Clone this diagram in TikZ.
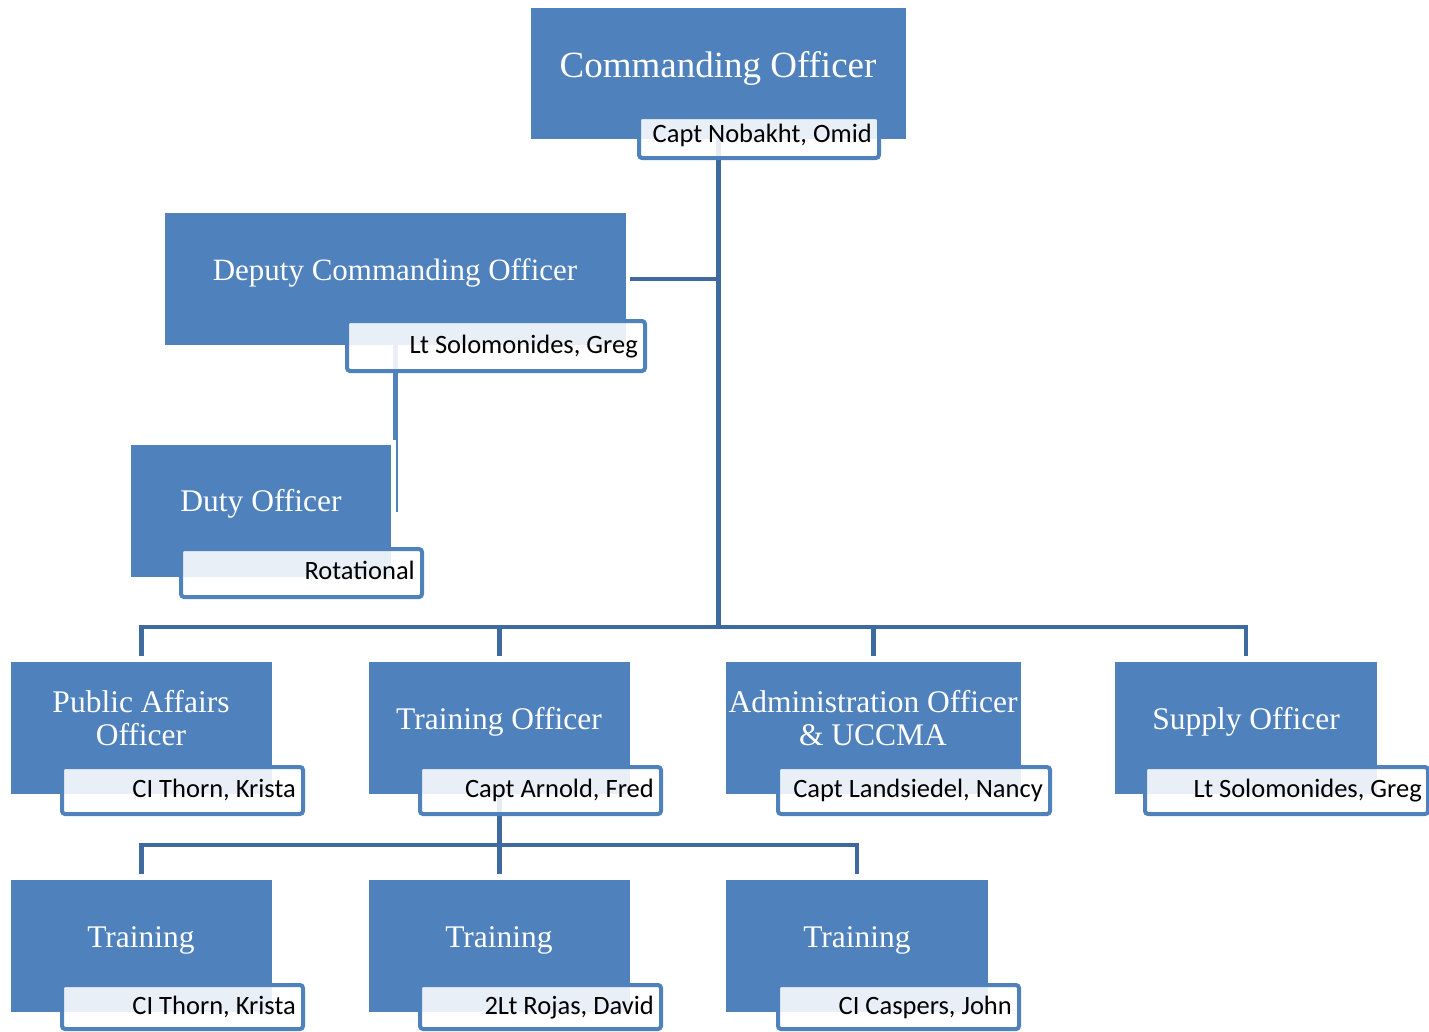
\documentclass[tikz,border=0pt]{standalone}
\usepackage{fontspec}
\setmainfont{Liberation Serif}
\newfontfamily\namefont{Carlito}
\usetikzlibrary{calc}
\pgfdeclarelayer{background}
\pgfsetlayers{background,main}
\definecolor{mainblue}{RGB}{79,129,189}
\definecolor{lineblue}{RGB}{62,106,160}
\tikzset{
  mainbox/.style={fill=mainblue, draw=none, inner sep=0pt, anchor=north west},
  namebox/.style={draw=mainblue, line width=4pt, rounded corners=3pt, fill=white, fill opacity=0.88, inner sep=0pt, anchor=north west},
  titletext/.style={text=white, font=\fontsize{31.5}{32.5}\selectfont, anchor=base, inner sep=0pt, align=center},
  nametext/.style={text=black, font=\namefont\fontsize{26.5}{30}\selectfont, anchor=base east, inner sep=0pt},
  conn/.style={draw=lineblue, line width=4.5pt},
}
\begin{document}
\begin{tikzpicture}[x=1pt,y=-1pt]
\useasboundingbox (0,0) rectangle (1429,1031);
% main boxes
\node[mainbox, minimum width=375pt, minimum height=131pt] (co) at (531,8) {};
\node[mainbox, minimum width=461pt, minimum height=132pt] (dco) at (165,213) {};
\node[mainbox, minimum width=260pt, minimum height=132pt] (duty) at (131,445) {};
\node[mainbox, minimum width=261pt, minimum height=132pt] (pao) at (11,662) {};
\node[mainbox, minimum width=261pt, minimum height=132pt] (tro) at (369,662) {};
\node[mainbox, minimum width=295pt, minimum height=132pt] (adm) at (726,662) {};
\node[mainbox, minimum width=262pt, minimum height=132pt] (sup) at (1115,662) {};
\node[mainbox, minimum width=261pt, minimum height=132pt] (tr1) at (11,880) {};
\node[mainbox, minimum width=261pt, minimum height=132pt] (tr2) at (369,880) {};
\node[mainbox, minimum width=262pt, minimum height=132pt] (tr3) at (726,880) {};
% titles
\node[titletext, font=\fontsize{37}{40}\selectfont] (cot) at (718,77) {Commanding Officer};
\node[titletext, font=\fontsize{31}{32}\selectfont] (dcot) at (395,280) {Deputy Commanding Officer};
\node[titletext] (dutyt) at (261,511) {Duty Officer};
\node[titletext] (paot) at (141,745) {Public Affairs\\Officer};
\node[titletext] (trot) at (499,729) {Training Officer};
\node[titletext] (admt) at (873,745) {Administration Officer\\\& UCCMA};
\node[titletext] (supt) at (1246,729) {Supply Officer};
\node[titletext] (tr1t) at (141,947) {Training};
\node[titletext] (tr2t) at (499,947) {Training};
\node[titletext] (tr3t) at (857,947) {Training};
% name boxes
\node[namebox, minimum width=240pt, minimum height=41pt] (con) at (637,115) {};
\node[namebox, minimum width=298pt, minimum height=50pt] (dcon) at (345,319) {};
\node[namebox, minimum width=241pt, minimum height=48pt] (dutyn) at (179,547) {};
\node[namebox, minimum width=241pt, minimum height=47pt] (paon) at (60,765) {};
\node[namebox, minimum width=241pt, minimum height=47pt] (tron) at (418,765) {};
\node[namebox, minimum width=272pt, minimum height=47pt] (admn) at (776,765) {};
\node[namebox, minimum width=283pt, minimum height=47pt] (supn) at (1143,765) {};
\node[namebox, minimum width=241pt, minimum height=44pt] (tr1n) at (60,983) {};
\node[namebox, minimum width=241pt, minimum height=44pt] (tr2n) at (418,983) {};
\node[namebox, minimum width=241pt, minimum height=44pt] (tr3n) at (776,983) {};
% names
\node[nametext] (conm) at (872,142) {Capt Nobakht, Omid};
\node[nametext] (dconm) at (638,353) {Lt Solomonides, Greg};
\node[nametext] (dutynm) at (415,579) {Rotational};
\node[nametext] (paonm) at (296,797) {CI Thorn, Krista};
\node[nametext] (tronm) at (654,797) {Capt Arnold, Fred};
\node[nametext] (admnm) at (1043,797) {Capt Landsiedel, Nancy};
\node[nametext] (supnm) at (1422,797) {Lt Solomonides, Greg};
\node[nametext] (tr1nm) at (296,1014) {CI Thorn, Krista};
\node[nametext] (tr2nm) at (654,1014) {2Lt Rojas, David};
\node[nametext] (tr3nm) at (1012,1014) {CI Caspers, John};
% connectors
\coordinate (bus) at (718,627);
\coordinate (bustwo) at (499,845);
\coordinate (dutyend) at (397,512);
\begin{pgfonlayer}{background}
\draw[conn] (co.south) -- (co.south |- bus);
\draw[conn] ([xshift=4pt]dco.east) -- (co.south |- dco.east);
\draw[conn, draw=mainblue] (dco.south) -- ([yshift=5pt]dco.south |- duty.north);
\draw[draw=mainblue, line width=1.5pt] ([yshift=8pt]dutyend |- duty.north) -- (dutyend);
\draw[conn] ([yshift=6pt]pao.north) |- (bus) -| ([yshift=6pt]sup.north);
\draw[conn] ([yshift=6pt]tro.north) -- (tro.north |- bus);
\draw[conn] ([yshift=6pt]adm.north) -- (adm.north |- bus);
\draw[conn] (tro.south) -- ([yshift=6pt]tr2.north);
\draw[conn] ([yshift=6pt]tr1.north) |- (bustwo) -| ([yshift=6pt]tr3.north);
\end{pgfonlayer}
\end{tikzpicture}
\end{document}
